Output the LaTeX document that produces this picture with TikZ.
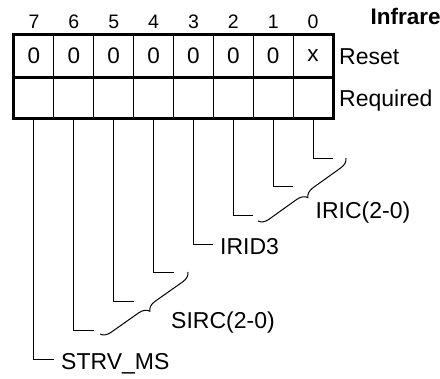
\documentclass[tikz,border=0pt]{standalone}
\usepackage{fontspec}
\setmainfont{Liberation Sans}
\usetikzlibrary{decorations.pathreplacing,calc}
\begin{document}
\begin{tikzpicture}[x=1pt,y=-1pt,
  cell/.style={draw,line width=1pt,minimum width=39.875pt,inner sep=0pt,font=\fontsize{22.5}{26}\selectfont},
  bitnum/.style={inner sep=0pt,anchor=base,font=\fontsize{19.5}{22}\selectfont},
  lbl/.style={inner sep=0pt,anchor=base west,font=\fontsize{23}{27}\selectfont},
  conn/.style={line width=1pt},
  brc/.style={line width=1pt,decorate,decoration={brace,amplitude=10pt}},
  frame/.style={line width=3pt}]
\useasboundingbox (0,0) rectangle (440,379);
\foreach \b/\v/\y [count=\i from 0] in {7/0/360,6/0/331,5/0/302,4/0/273,3/0/245,2/0/216,1/0/187,0/x/159}{
  \pgfmathsetmacro\cx{14+39.875*(\i+0.5)}
  \node[bitnum] (n\b) at (\cx,28.3) {\b};
  \node[cell,minimum height=42pt] (r\b) at (\cx,56) {\v};
  \node[cell,minimum height=41pt] (q\b) at (\cx,97.5) {};
  \coordinate (k\b) at (\cx+20,\y);
  \draw[conn] (q\b.south) |- (k\b);
}
\draw[frame] (r7.north west) rectangle (q0.south east);
\draw[frame] (r7.south west) -- (r0.south east);
\node[lbl,font=\fontsize{22.5}{26}\selectfont\bfseries] (title) at (370.5,25) {Infrare};
\node[lbl] (reset) at (339,65) {Reset};
\node[lbl] (req) at (339,106.7) {Required};
\node[lbl] (iric) at (315.5,219) {IRIC(2-0)};
\node[lbl] (irid) at (220,255) {IRID3};
\node[lbl] (sirc) at (171,329) {SIRC(2-0)};
\node[lbl] (strv) at (61,370) {STRV\_MS};
\coordinate (ia) at (346,158);
\coordinate (ib) at (258,221);
\draw[brc] (ia) -- (ib);
\coordinate (sa) at (188,272);
\coordinate (sb) at (100,334);
\draw[brc] (sa) -- (sb);
\end{tikzpicture}
\end{document}
